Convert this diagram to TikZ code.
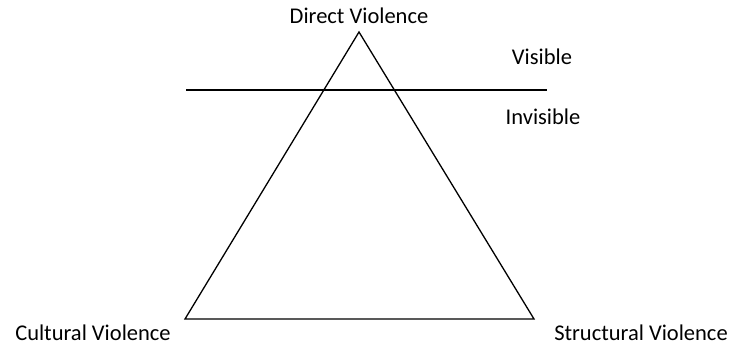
\documentclass[tikz,border=0pt]{standalone}
\usepackage{fontspec}
\setmainfont{Carlito}
\usetikzlibrary{positioning}

\begin{document}
\begin{tikzpicture}[x=1pt,y=-1pt,line width=1.3pt,
  every node/.style={font=\fontsize{22.5}{27}\selectfont,inner sep=0pt,anchor=base}]
\useasboundingbox (0,0) rectangle (735,347);

% corners of the triangle
\coordinate (top)   at (359,32);
\coordinate (left)  at (185,319);
\coordinate (right) at (534,319);

% visibility line
\coordinate (lineL) at (186,90);
\coordinate (lineR) at (547,90);

\draw (left) -- (top) -- (right) -- cycle;
\draw (lineL) -- (lineR);

\node (direct)     at (359,24)  {Direct Violence};
\node (visible)    at (542,65)  {Visible};
\node (invisible)  at (543,125) {Invisible};
\node (cultural)   at (93,340)  {Cultural Violence};
\node (structural) at (641,340) {Structural Violence};
\end{tikzpicture}
\end{document}
